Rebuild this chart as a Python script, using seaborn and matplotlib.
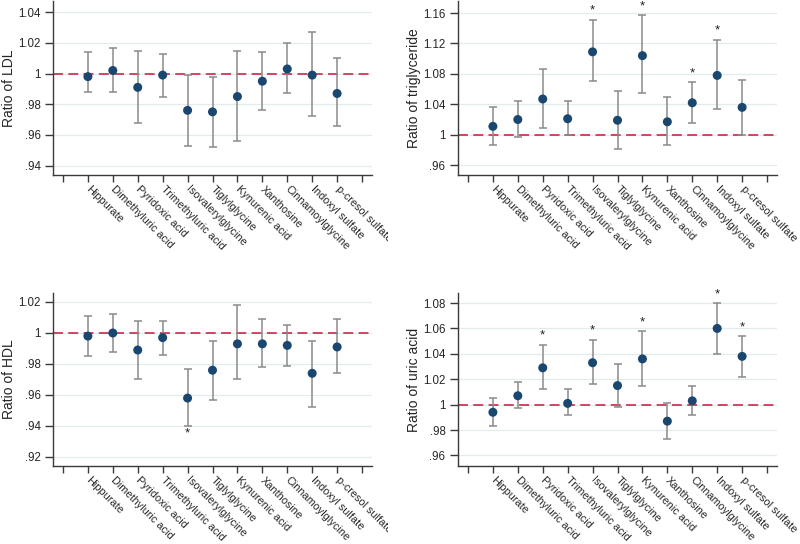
import numpy as np
import pandas as pd
import matplotlib
matplotlib.use("Agg")
import matplotlib.pyplot as plt
import seaborn as sns
from matplotlib.ticker import FuncFormatter
from matplotlib.transforms import Bbox, TransformedBbox

metabolites = ["Hippurate", "Dimethyluric acid", "Pyridoxic acid", "Trimethyluric acid",
               "Isovalerylglycine", "Tiglylglycine", "Kynurenic acid", "Xanthosine",
               "Cinnamoylglycine", "Indoxyl sulfate", "p-cresol sulfate"]

# ratio estimates with 95% CI
ldl_est = [0.998, 1.002, 0.991, 0.999, 0.976, 0.975, 0.985, 0.995, 1.003, 0.999, 0.987]
ldl_lo = [0.988, 0.988, 0.968, 0.985, 0.953, 0.952, 0.956, 0.976, 0.987, 0.972, 0.966]
ldl_hi = [1.014, 1.017, 1.015, 1.013, 0.999, 0.998, 1.015, 1.014, 1.020, 1.027, 1.010]
ldl_sig = [0, 0, 0, 0, 0, 0, 0, 0, 0, 0, 0]

tg_est = [1.011, 1.020, 1.047, 1.021, 1.109, 1.019, 1.104, 1.017, 1.042, 1.078, 1.036]
tg_lo = [0.986, 0.997, 1.009, 0.999, 1.071, 0.981, 1.055, 0.987, 1.016, 1.034, 1.000]
tg_hi = [1.037, 1.044, 1.086, 1.044, 1.151, 1.057, 1.157, 1.050, 1.069, 1.125, 1.072]
tg_sig = [0, 0, 0, 0, 1, 0, 1, 0, 1, 1, 0]

hdl_est = [0.998, 1.000, 0.989, 0.997, 0.958, 0.976, 0.993, 0.993, 0.992, 0.974, 0.991]
hdl_lo = [0.985, 0.988, 0.970, 0.986, 0.940, 0.957, 0.970, 0.978, 0.979, 0.952, 0.974]
hdl_hi = [1.011, 1.012, 1.008, 1.008, 0.977, 0.995, 1.018, 1.009, 1.005, 0.995, 1.009]
hdl_sig = [0, 0, 0, 0, 1, 0, 0, 0, 0, 0, 0]

ua_est = [0.994, 1.007, 1.029, 1.001, 1.033, 1.015, 1.036, 0.987, 1.003, 1.060, 1.038]
ua_lo = [0.983, 0.997, 1.012, 0.992, 1.016, 0.998, 1.015, 0.973, 0.992, 1.040, 1.022]
ua_hi = [1.005, 1.018, 1.047, 1.012, 1.051, 1.032, 1.058, 1.001, 1.015, 1.080, 1.054]
ua_sig = [0, 0, 1, 0, 1, 0, 1, 0, 0, 1, 1]

panels = [
    ("Ratio of LDL", ldl_est, ldl_lo, ldl_hi, ldl_sig, (0.9338, 1.0474), np.arange(0.94, 1.041, 0.02)),
    ("Ratio of triglyceride", tg_est, tg_lo, tg_hi, tg_sig, (0.947, 1.176), np.arange(0.96, 1.161, 0.04)),
    ("Ratio of HDL", hdl_est, hdl_lo, hdl_hi, hdl_sig, (0.9142, 1.0258), np.arange(0.92, 1.021, 0.02)),
    ("Ratio of uric acid", ua_est, ua_lo, ua_hi, ua_sig, (0.9517, 1.0879), np.arange(0.96, 1.081, 0.02)),
]

navy = "#1a476f"
grey = "#8a8a8a"
red = "#c8163c"
axis_col = "#3a3a3a"

sns.set_style("ticks")
plt.rcParams['font.family'] = ['Liberation Sans', 'DejaVu Sans']

fig = plt.figure(figsize=(8, 5.44), dpi=100)
rects = [
    [0.06625, 0.6783, 0.39875, 0.3200],
    [0.5725, 0.6783, 0.39875, 0.3200],
    [0.06625, 0.1434, 0.39875, 0.3180],
    [0.5725, 0.1434, 0.39875, 0.3180],
]


def stata_fmt(v, pos):
    s = f"{v:.2f}".rstrip("0").rstrip(".")
    if s.startswith("0."):
        s = s[1:]
    return s


for i, (ylab, est, lo, hi, sig, ylim, yt) in enumerate(panels):
    ax = fig.add_axes(rects[i])
    x = np.arange(1, len(metabolites) + 1)
    df = pd.DataFrame({"x": x, "est": est, "lo": lo, "hi": hi, "sig": sig})

    for v in yt:
        ax.axhline(v, color="#e3ebef", lw=0.9, zorder=0)
    ax.axhline(1, color=red, lw=1.1, dashes=(6.5, 3.5), zorder=1)

    ax.errorbar(df["x"], df["est"], yerr=[df["est"] - df["lo"], df["hi"] - df["est"]],
                fmt="none", ecolor=grey, elinewidth=1.1, capsize=3.2, capthick=1.1, zorder=2)
    sns.scatterplot(data=df, x="x", y="est", color=navy, s=42, edgecolor="none",
                    ax=ax, zorder=3, legend=False)

    for _, r in df[df["sig"] == 1].iterrows():
        if r["est"] >= 1:
            ax.annotate("*", (r["x"], r["hi"]), xytext=(0, 6.5), textcoords="offset points",
                        ha="center", va="center", fontsize=9.5, color="#222222")
        else:
            ax.annotate("*", (r["x"], r["lo"]), xytext=(0, -5), textcoords="offset points",
                        ha="center", va="center", fontsize=9.5, color="#222222")

    ax.set_xlim(-0.4, 12.4)
    ax.set_ylim(*ylim)
    ax.set_yticks(yt)
    ax.yaxis.set_major_formatter(FuncFormatter(stata_fmt))
    ax.set_xticks(np.arange(0, 13))
    ax.set_xticklabels([""] + metabolites + [""], rotation=-45, ha="left",
                       rotation_mode="anchor", va="center", fontsize=7.8)
    ax.tick_params(axis="x", length=5, width=1.0, color=axis_col, pad=4)
    ax.tick_params(axis="y", length=6, width=1.0, color=axis_col, labelsize=8.3, pad=3)
    ax.set_xlabel("")
    ax.set_ylabel(ylab, fontsize=10)
    ax.yaxis.label.set_va("center")
    ax.yaxis.set_label_coords(-0.138, 0.5)
    sns.despine(ax=ax)
    for sp in ["left", "bottom"]:
        ax.spines[sp].set_color(axis_col)
        ax.spines[sp].set_linewidth(1.0)

    # left panels: labels are cut at the panel edge like in the original combined graph
    if i in (0, 2):
        clip = TransformedBbox(Bbox([[0, 0], [0.485, 1]]), fig.transFigure)
        for lab in ax.get_xticklabels():
            lab.set_clip_box(clip)
            lab.set_clip_on(True)

fig.savefig("out.png", dpi=100)
